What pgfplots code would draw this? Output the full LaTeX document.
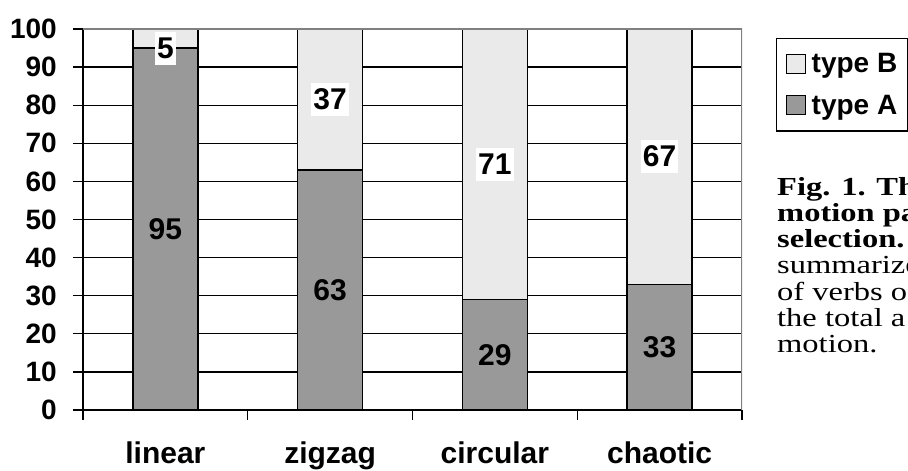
\documentclass[border=0pt]{standalone}
\usepackage{fontspec}
\setmainfont{Liberation Sans}
\newfontfamily\capfont[FakeStretch=1.25]{Liberation Serif}
\usepackage{pgfplots}
\pgfplotsset{compat=1.18}

\definecolor{typeA}{RGB}{153,153,153}
\definecolor{typeB}{RGB}{234,234,234}
\definecolor{frame}{RGB}{128,128,128}

\newcommand\bigbold{\fontsize{30bp}{32bp}\selectfont\bfseries}
\newcommand\midbold{\fontsize{28bp}{30bp}\selectfont\bfseries}

\pgfplotsset{
	chartbox/.style={
		at={(83bp,61bp)}, anchor=south west,
		scale only axis, width=659bp, height=381bp,
		xmin=0.5, xmax=4.5, ymin=0, ymax=100,
	},
}

\begin{document}
\begin{tikzpicture}
\useasboundingbox (0,0) rectangle (908bp,471bp);
\clip (0,0) rectangle (908bp,471bp);

% bars
\begin{axis}[
	chartbox,
	ybar stacked, bar width=65bp,
	ytick={0,10,...,100},
	xtick={0.5,1.5,2.5,3.5,4.5}, xticklabels={},
	extra x ticks={1,2,3,4},
	extra x tick labels={linear,zigzag,circular,chaotic},
	extra x tick style={major tick length=0pt, grid=none,
		xticklabel style={anchor=north, inner sep=0pt, yshift=-32bp, font=\bigbold}},
	axis x line*=bottom, axis y line*=left,
	tick align=outside, major tick length=10bp,
	ymajorgrids, major grid style={black, line width=1.3bp},
	tick style={black, line width=1.3bp},
	axis line style={black, line width=1.3bp},
	/pgf/number format/assume math mode=true,
	ticklabel style={font=\midbold},
	yticklabel style={anchor=east, inner sep=0pt, xshift=-16bp},
	reverse legend,
	legend style={at={(axis description cs:1.0516,0.9764)}, anchor=north west,
		draw=black, line width=1.4bp, inner xsep=8bp, inner ysep=13bp,
		font=\midbold, row sep=17bp,
		legend cell align=left},
	legend image code/.code={
		\draw[#1, line width=0.8bp] (2bp,-9bp) rectangle (21bp,10bp);
		\path[draw=none, fill=none] (0bp,0bp) -- (25bp,0bp);},
]
\draw[frame, line width=1.3bp] (rel axis cs:0,1) -- (rel axis cs:1,1) -- (rel axis cs:1,0);

\addplot[fill=typeA, draw=black, line width=1.5bp] coordinates {
	(1,95) (2,63) (3,29) (4,33)
};
\addlegendentry{type A}

\addplot[fill=typeB, draw=black, line width=1.5bp] coordinates {
	(1,5) (2,37) (3,71) (4,67)
};
\addlegendentry{type B}
\end{axis}

% value labels, at the middle of each segment
\begin{axis}[
	chartbox, hide axis, clip=false,
	point meta=explicit symbolic,
	nodes near coords, nodes near coords align={center},
	every node near coord/.append style={font=\bigbold, inner sep=1bp},
]
\addplot[draw=none, mark=none] coordinates {
	(1,47.5) [95] (2,31.5) [63] (3,14.5) [29] (4,16.5) [33]
};
\addplot[draw=none, mark=none,
	every node near coord/.append style={fill=white, inner xsep=2bp, inner ysep=6bp}] coordinates {
	(1,95) [5] (2,81.5) [37] (3,64.5) [71] (4,66.5) [67]
};
\end{axis}

\node[anchor=north west, align=left, inner sep=0pt,
	font=\capfont\fontsize{26bp}{26.2bp}\selectfont] at (777bp,294bp)
	{\textbf{Fig. 1. Th}\\ \textbf{motion pa}\\ \textbf{selection.}\\
	 summarize\\ of verbs o\\ the total a\\ motion.};
\end{tikzpicture}
\end{document}
